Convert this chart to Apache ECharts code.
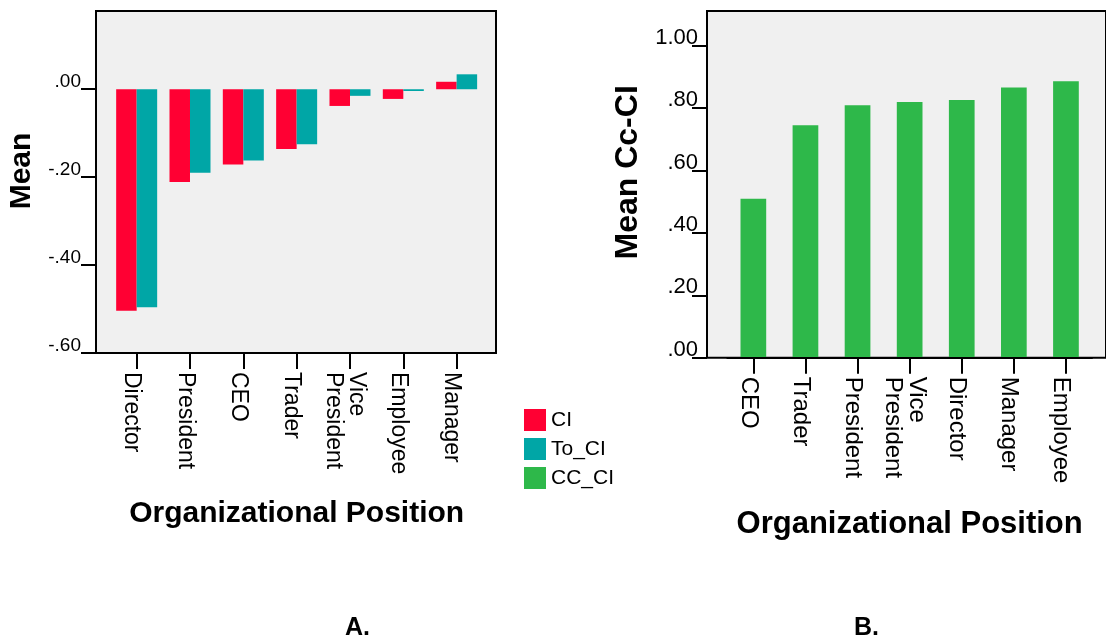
<!DOCTYPE html>
<html><head><meta charset="utf-8">
<script src="https://cdn.jsdelivr.net/npm/echarts@6/dist/echarts.min.js"></script>
<style>html,body{margin:0;padding:0;background:#fff;} #c{width:1106px;height:638px;}</style>
</head><body><div id="c"></div>
<script>
// ---- data ----
const categoriesA = ['Director', 'President', 'CEO', 'Trader', 'Vice\nPresident', 'Employee', 'Manager'];
const valuesCI = [-0.504, -0.211, -0.171, -0.136, -0.038, -0.022, 0.017];
const valuesToCI = [-0.496, -0.190, -0.162, -0.125, -0.015, -0.004, 0.034];
const categoriesB = ['CEO', 'Trader', 'President', 'Vice\nPresident', 'Director', 'Manager', 'Employee'];
const valuesCCCI = [0.509, 0.745, 0.809, 0.819, 0.826, 0.866, 0.886];
const yTicksA = [-0.6, -0.4, -0.2, 0];
const yTicksB = [0, 0.2, 0.4, 0.6, 0.8, 1.0];
const seriesNames = ['CI', 'To_CI', 'CC_CI'];
const axisTitleX = 'Organizational Position';
const axisTitleYA = 'Mean';
const axisTitleYB = 'Mean Cc-CI';
const panelLabels = ['A.', 'B.'];

const FONT = 'Liberation Sans, Arial, sans-serif';
const fmt = v => (v < -1e-9 ? '-' : '') + Math.abs(v).toFixed(2).replace(/^0/, '');

const chart = echarts.init(document.getElementById('c'), null, {renderer: 'canvas'});
const black = '#000';
const frame = {show: true, backgroundColor: '#f0f0f0', borderColor: black, borderWidth: 2};
const hiddenVal = (g) => ({type: 'value', gridIndex: g, show: false, min: 0, max: 1});

// category label: a small blank line first, so the text sits a little left of its tick
const catFmt = v => '{s| }\n' + v.split('\n').map(p => '{t|' + p + '}').join('\n');

function catAxis(g, data, fontSize, nameSize, nameGap) {
  return {
    type: 'category', gridIndex: g, data: data, z: 3,
    axisLine: {show: true, onZero: false, lineStyle: {color: black, width: 2}},
    axisTick: {show: true, alignWithLabel: true, length: 16, lineStyle: {color: black, width: 2}},
    axisLabel: {interval: 0, rotate: -90, margin: 19, formatter: catFmt, color: black,
      rich: {
        s: {fontSize: 2, lineHeight: 10},
        t: {fontSize: fontSize, lineHeight: fontSize, fontFamily: FONT, color: black}
      }},
    name: axisTitleX, nameLocation: 'middle', nameGap: nameGap,
    nameTextStyle: {fontSize: nameSize, fontWeight: 'bold', color: black, fontFamily: FONT}
  };
}
function valAxis(g, min, max, ticks, offset, fontSize, margin, shift, name, nameSize, nameGap, namePad) {
  return {
    type: 'value', gridIndex: g, min: min, max: max, offset: offset, z: 3,
    splitLine: {show: false},
    axisLine: {show: false},
    axisTick: {show: true, customValues: ticks, length: 15, lineStyle: {color: black, width: 2}},
    axisLabel: {customValues: ticks, margin: margin, color: black,
      formatter: v => '{t|' + fmt(v) + '}\n{s| }',
      rich: {
        t: {fontSize: fontSize, lineHeight: fontSize, fontFamily: FONT, color: black, align: 'right'},
        s: {fontSize: 2, lineHeight: shift}
      }},
    name: name, nameLocation: 'middle', nameGap: nameGap,
    nameTextStyle: {fontSize: nameSize, fontWeight: 'bold', color: black, fontFamily: FONT, padding: [0, 0, 0, namePad]}
  };
}

chart.setOption({
  animation: false,
  textStyle: {fontFamily: FONT},
  title: [
    {text: panelLabels[0], left: 345, top: 616, padding: 0, textStyle: {fontSize: 25, fontWeight: 'bold', color: black, fontFamily: FONT}},
    {text: panelLabels[1], left: 854, top: 616, padding: 0, textStyle: {fontSize: 25, fontWeight: 'bold', color: black, fontFamily: FONT}}
  ],
  legend: {
    data: seriesNames, orient: 'vertical', left: 524, top: 409, padding: 0,
    itemWidth: 22, itemHeight: 22, itemGap: 7, icon: 'rect', selectedMode: false,
    textStyle: {fontSize: 21, color: black, fontFamily: FONT}
  },
  grid: [
    Object.assign({left: 96, top: 11, width: 400, height: 342}, frame),
    {left: 110, top: 11, width: 373.3, height: 342},
    Object.assign({left: 707, top: 11, width: 430, height: 346.7}, frame),
    {left: 727.3, top: 11, width: 364.7, height: 346.7}
  ],
  xAxis: [
    hiddenVal(0),
    catAxis(1, categoriesA, 23, 30, 146),
    hiddenVal(2),
    catAxis(3, categoriesB, 24, 31, 151)
  ],
  yAxis: [
    hiddenVal(0),
    valAxis(1, -0.6, 0.178, yTicksA, 14, 19, 15, 15, axisTitleYA, 30, 59, 22),
    hiddenVal(2),
    valAxis(3, 0, 1.111, yTicksB, 20.3, 22, 9, 16, axisTitleYB, 32, 63, 24)
  ],
  series: [
    {name: seriesNames[0], type: 'bar', xAxisIndex: 1, yAxisIndex: 1, data: valuesCI,
      barWidth: 20.5, barGap: '0%', itemStyle: {color: '#ff0033'}},
    {name: seriesNames[1], type: 'bar', xAxisIndex: 1, yAxisIndex: 1, data: valuesToCI,
      barWidth: 20.5, barGap: '0%', itemStyle: {color: '#00a6a6'}},
    {name: seriesNames[2], type: 'bar', xAxisIndex: 3, yAxisIndex: 3, data: valuesCCCI,
      barWidth: 25.7, itemStyle: {color: '#2eb84a'}}
  ]
});
</script></body></html>
